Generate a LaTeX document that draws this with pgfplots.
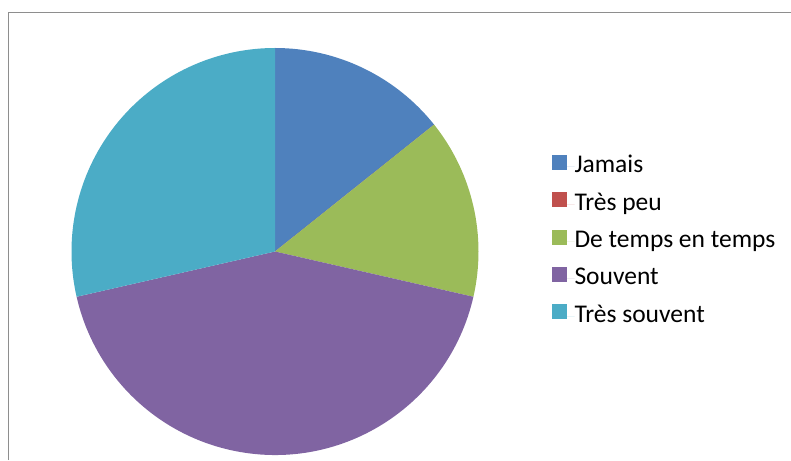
\documentclass[border=0pt]{standalone}
\usepackage{pgfplots}
\usepackage{pgfplotstable}
\pgfplotsset{compat=1.18}
\usepackage{fontspec}
\setmainfont{Carlito}

\definecolor{cJamais}{HTML}{4F81BD}
\definecolor{cTrespeu}{HTML}{C0504D}
\definecolor{cTemps}{HTML}{9BBB59}
\definecolor{cSouvent}{HTML}{8064A2}
\definecolor{cTressouvent}{HTML}{4BACC6}
\definecolor{framegray}{HTML}{8E8E8E}

% answers (counts)
\pgfplotstableread[col sep=comma]{
label,value,colour
Jamais,1,cJamais
Très peu,0,cTrespeu
De temps en temps,1,cTemps
Souvent,3,cSouvent
Très souvent,2,cTressouvent
}\piedata

\begin{document}
\begin{tikzpicture}
\begin{axis}[
  at={(0,0)}, anchor=south west,
  x=1pt, y=1pt,
  xmin=0, xmax=791, ymin=0, ymax=460,
  hide axis, clip=false,
  legend image code/.code={%
    \fill[#1] (0pt,-3.2pt) rectangle (15pt,11.8pt);
    \path (0pt,0pt) -- (22.6pt,0pt);},
  legend cell align=left,
  legend style={
    at={(axis cs:551.7,305)}, anchor=north west,
    draw=none, fill=none, inner sep=0pt, row sep=14.5pt,
    font=\fontsize{25.5}{30}\selectfont,
    nodes={inner sep=0pt, text height=17pt, text depth=5pt}},
]
  % chart frame (only left and top edges are visible)
  \draw[framegray, line width=1.6pt] (axis cs:8.3,0) -- (axis cs:8.3,447.5) -- (axis cs:791,447.5);

  \pgfplotstablegetrowsof{\piedata}
  \pgfmathtruncatemacro\lastrow{\pgfplotsretval-1}
  \def\pietotal{0}
  \pgfplotsforeachungrouped \i in {0,...,\lastrow}{%
    \pgfplotstablegetelem{\i}{value}\of\piedata
    \pgfmathsetmacro\pietotal{\pietotal+\pgfplotsretval}%
  }
  \def\sa{90}
  \pgfplotsforeachungrouped \i in {0,...,\lastrow}{%
    \pgfplotstablegetelem{\i}{value}\of\piedata \let\sval\pgfplotsretval
    \pgfplotstablegetelem{\i}{colour}\of\piedata \let\scol\pgfplotsretval
    \pgfplotstablegetelem{\i}{label}\of\piedata \let\slab\pgfplotsretval
    \pgfmathsetmacro\sb{\sa-360*\sval/\pietotal}%
    \edef\cmd{%
      \noexpand\fill[\scol] (axis cs:275,208.5) -- ++(\sa:203.5pt)
        arc[start angle=\sa, end angle=\sb, radius=203.5pt] -- cycle;
      \noexpand\addlegendimage{fill=\scol, draw=none}
      \noexpand\addlegendentry{\slab}}%
    \cmd
    \let\sa\sb
  }
\end{axis}
\pgfresetboundingbox
\path[use as bounding box] (0,0) rectangle (791pt,460pt);
\end{tikzpicture}
\end{document}
